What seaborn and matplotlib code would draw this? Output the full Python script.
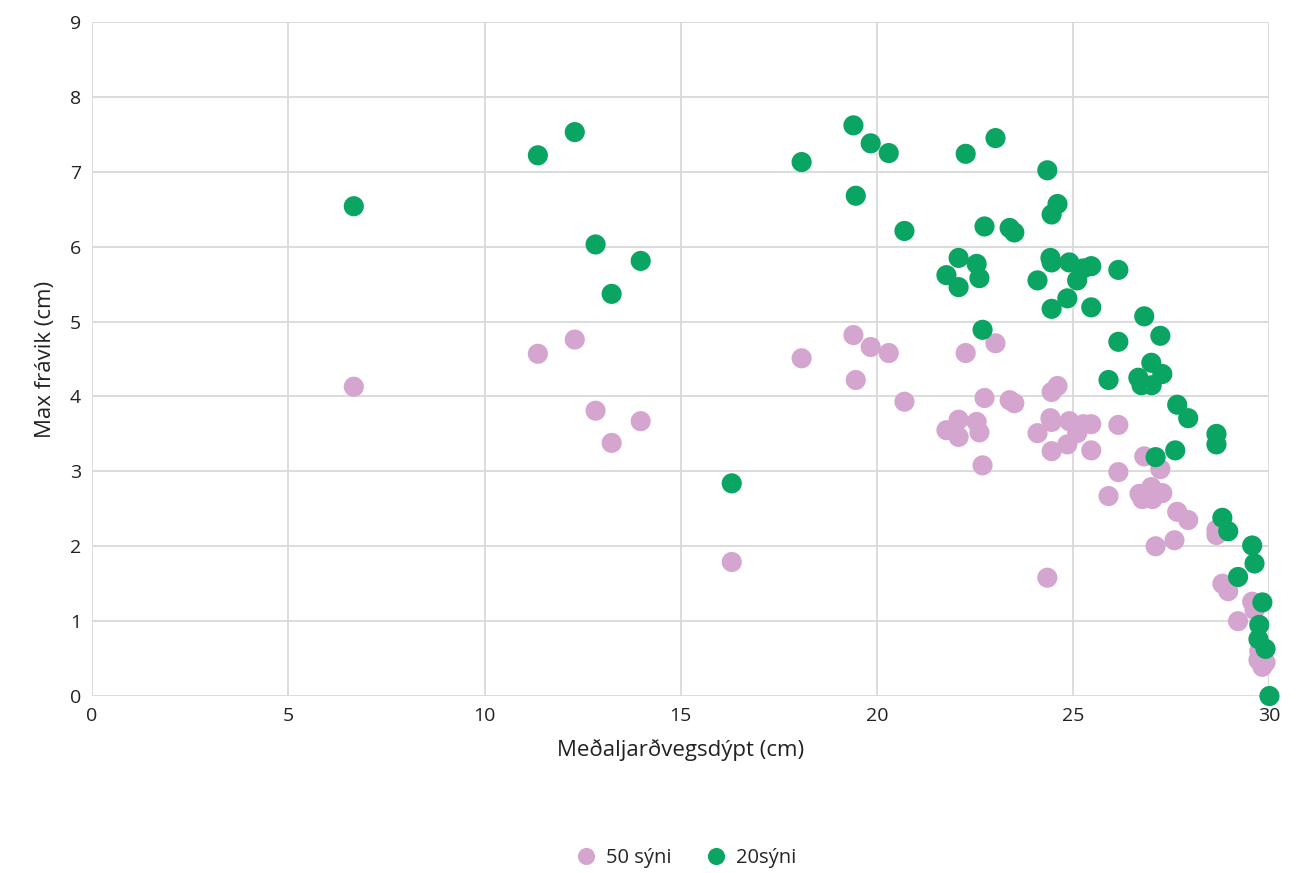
import pandas as pd
import seaborn as sns
import matplotlib.pyplot as plt

# Data
pink_x = [6.67, 11.36, 12.30, 12.83, 13.24, 13.98, 16.30, 18.08, 19.40, 19.46, 19.84, 20.30, 20.70,
          21.77, 22.08, 22.08, 22.26, 22.54, 22.61, 22.69, 22.74, 23.02, 23.38, 23.50, 24.09, 24.34,
          24.42, 24.45, 24.45, 24.45, 24.60, 24.85, 24.90, 25.10, 25.26, 25.46, 25.46, 25.90, 26.15,
          26.15, 26.69, 26.76, 26.81, 26.99, 27.02, 27.10, 27.22, 27.27, 27.58, 27.65, 27.93, 28.65,
          28.65, 28.80, 28.95, 29.20, 29.56, 29.62, 29.72, 29.74, 29.82, 29.90]
pink_y = [4.13, 4.57, 4.76, 3.81, 3.38, 3.67, 1.79, 4.51, 4.82, 4.22, 4.66, 4.58, 3.93,
          3.55, 3.69, 3.46, 4.58, 3.66, 3.52, 3.08, 3.98, 4.71, 3.95, 3.91, 3.51, 1.58,
          3.71, 4.06, 3.66, 3.27, 4.14, 3.36, 3.67, 3.51, 3.63, 3.63, 3.28, 2.67, 3.62,
          2.99, 2.70, 2.63, 3.20, 2.79, 2.63, 2.00, 3.03, 2.71, 2.08, 2.46, 2.35, 2.22,
          2.15, 1.50, 1.40, 1.00, 1.26, 1.15, 0.48, 0.60, 0.39, 0.45]

green_x = [6.67, 11.36, 12.30, 12.83, 13.24, 13.98, 16.30, 18.08, 19.40, 19.46, 19.84, 20.30, 20.70,
           21.77, 22.08, 22.08, 22.26, 22.54, 22.61, 22.69, 22.74, 23.02, 23.38, 23.50, 24.09, 24.34,
           24.42, 24.45, 24.45, 24.45, 24.60, 24.85, 24.90, 25.10, 25.26, 25.46, 25.46, 25.90, 26.15,
           26.15, 26.66, 26.74, 26.81, 26.99, 27.00, 27.10, 27.22, 27.27, 27.60, 27.65, 27.93, 28.65,
           28.65, 28.80, 28.95, 29.20, 29.56, 29.62, 29.72, 29.74, 29.82, 29.90, 30.00]
green_y = [6.54, 7.22, 7.53, 6.03, 5.37, 5.81, 2.84, 7.13, 7.62, 6.68, 7.38, 7.25, 6.21,
           5.62, 5.85, 5.46, 7.24, 5.77, 5.58, 4.89, 6.27, 7.45, 6.25, 6.19, 5.55, 7.02,
           5.85, 6.43, 5.79, 5.17, 6.57, 5.31, 5.79, 5.55, 5.71, 5.74, 5.19, 4.22, 5.69,
           4.73, 4.25, 4.15, 5.07, 4.45, 4.15, 3.19, 4.81, 4.30, 3.28, 3.89, 3.71, 3.50,
           3.36, 2.38, 2.20, 1.59, 2.01, 1.77, 0.76, 0.95, 1.25, 0.63, 0.00]

series = ['50 sýni', '20sýni']
colors = ['#d4a6cf', '#0aa463']

df = pd.concat([
    pd.DataFrame({'x': pink_x, 'y': pink_y, 'series': series[0]}),
    pd.DataFrame({'x': green_x, 'y': green_y, 'series': series[1]}),
])

sns.set_style('white')
plt.rcParams['font.family'] = ['Open Sans', 'DejaVu Sans']

fig = plt.figure(figsize=(12.98, 8.73), dpi=100)
ax = fig.add_axes([0.0709, 0.2027, 0.9071, 0.7721])

sns.scatterplot(data=df, x='x', y='y', hue='series', palette=colors, hue_order=series,
                s=210, linewidth=0, alpha=1, ax=ax, zorder=3, clip_on=False)

ax.set_xlim(0, 30)
ax.set_ylim(0, 9)
ax.set_xticks(range(0, 31, 5))
ax.set_yticks(range(0, 10))
ax.grid(True, color='#d9d9d9', linewidth=1.3)
ax.set_axisbelow(True)
for s in ax.spines.values():
    s.set_visible(False)
ax.tick_params(axis='both', length=0, labelsize=14, colors='#222222', pad=8)

ax.set_xlabel('Meðaljarðvegsdýpt (cm)', fontsize=16, color='#222222', labelpad=10)
ax.set_ylabel('Max frávik (cm)', fontsize=16, color='#222222', labelpad=10)

ax.legend(loc='center', bbox_to_anchor=(0.5, -0.24), ncol=2, frameon=False,
          fontsize=14.5, handletextpad=0.0, columnspacing=1.2, markerscale=0.85)

fig.savefig('out.png', dpi=100)
